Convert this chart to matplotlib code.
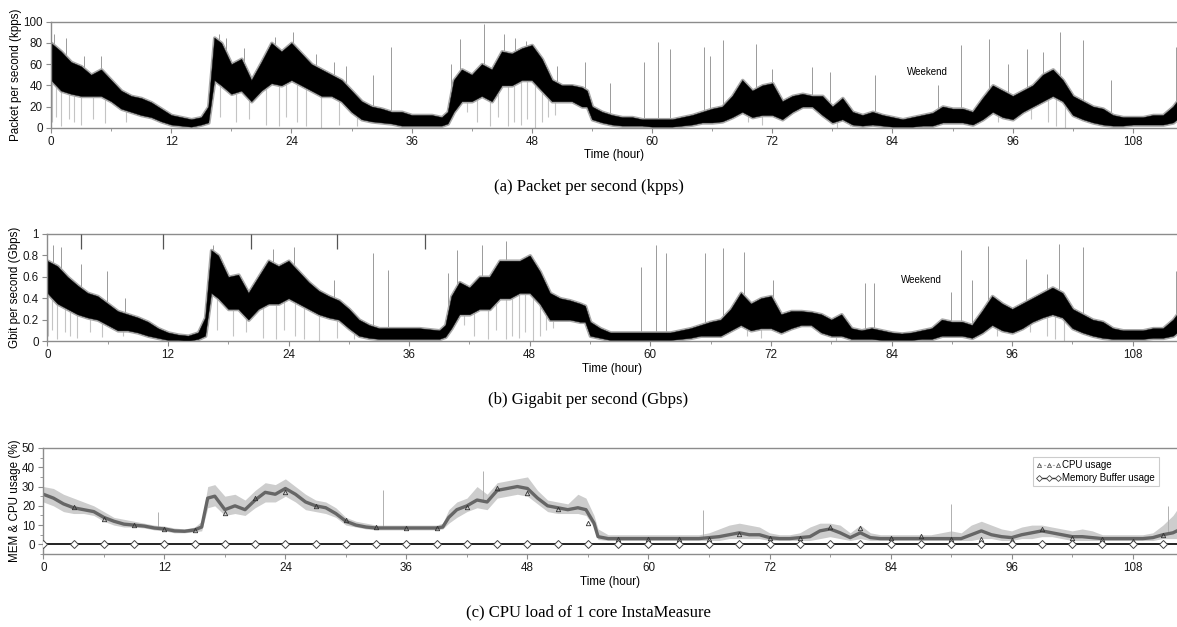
"""Traffic rate and CPU load over 112 hours, three stacked panels."""

import numpy as np
import matplotlib
matplotlib.use("Agg")
import matplotlib.pyplot as plt
from matplotlib.ticker import MultipleLocator
from matplotlib.lines import Line2D

plt.rcParams["font.family"] = ["Liberation Sans", "DejaVu Sans"]

# (a) packets per second (kpps): lower/upper edge of the dense black trace
pps_hours = [0, 1, 2, 3, 4, 5, 6, 7, 8, 9, 10, 11, 12, 13, 14, 15, 15.7, 16.3,
             17, 18, 19, 20, 21, 22, 23, 24, 25, 26, 27, 28, 29, 30, 31, 32, 33,
             34, 35, 36, 37, 38, 39, 39.6, 40.2, 41, 42, 43, 44, 45, 46, 47, 48,
             49, 50, 51, 52, 53, 53.5, 54, 55, 56, 57, 58, 59, 60, 61, 62, 63,
             64, 65, 66, 67, 68, 69, 70, 71, 72, 73, 74, 75, 76, 77, 78, 79, 80,
             81, 82, 83, 84, 85, 86, 87, 88, 89, 90, 91, 92, 93, 94, 95, 96, 97,
             98, 99, 100, 101, 102, 103, 104, 105, 106, 107, 108, 109, 110, 111,
             112, 112.4]
pps_low = [45, 35, 32, 30, 30, 30, 25, 18, 15, 12, 10, 6, 3, 2, 1, 3, 5, 45,
           40, 32, 35, 25, 35, 42, 40, 45, 40, 35, 30, 30, 25, 15, 8, 6, 5,
           4, 2, 2, 2, 2, 2, 4, 15, 25, 25, 30, 25, 40, 40, 45, 45,
           35, 25, 25, 25, 20, 20, 8, 5, 3, 2, 2, 2, 1, 1, 1, 2,
           3, 5, 5, 6, 10, 15, 10, 12, 12, 8, 15, 20, 20, 12, 5, 8, 3,
           2, 3, 2, 1, 1, 1, 2, 2, 5, 5, 5, 3, 8, 15, 10, 8, 15,
           20, 25, 30, 25, 12, 8, 5, 3, 2, 2, 3, 3, 3, 3,
           5, 8]
pps_high = [80, 72, 62, 58, 50, 55, 45, 35, 30, 28, 24, 18, 12, 10, 8, 10, 20, 85,
            80, 60, 65, 45, 62, 80, 72, 80, 70, 60, 55, 50, 45, 35, 25, 20, 18,
            15, 15, 12, 12, 12, 10, 15, 45, 55, 50, 60, 55, 72, 70, 75, 78,
            65, 45, 40, 40, 38, 35, 20, 15, 12, 10, 10, 8, 8, 8, 8, 10,
            12, 15, 18, 20, 30, 45, 35, 40, 42, 25, 30, 32, 30, 30, 20, 28, 15,
            12, 15, 12, 10, 8, 10, 12, 14, 20, 18, 18, 15, 28, 40, 35, 30, 35,
            40, 50, 55, 45, 30, 25, 20, 18, 12, 10, 10, 10, 12, 12,
            20, 25]
pps_up_hours = [0.3, 1.5, 3.3, 5.0, 16.8, 17.5, 19.3, 22.4, 24.2, 26.5, 28.3,
                29.5, 32.1, 33.9, 39.9, 40.8, 43.2, 45.2, 46.3, 47.4, 50.5, 53.3,
                55.8, 59.2, 60.6, 61.8, 65.2, 65.8, 67.1, 70.4, 72.0, 76.0, 77.8,
                82.3, 88.5, 90.8, 93.6, 95.5, 97.4, 99.0, 100.7, 103.0, 105.8,
                112.3]
pps_up_vals = [88, 85, 68, 68, 88, 85, 75, 86, 90, 70, 62,
               58, 50, 76, 60, 84, 98, 88, 85, 82, 58, 62,
               42, 62, 81, 74, 76, 68, 83, 79, 55, 57, 53,
               50, 40, 78, 84, 60, 74, 71, 90, 83, 45,
               76]
pps_dn_hours = [0.1, 0.5, 1.0, 1.8, 2.3, 3.0, 4.2, 5.4, 7.5, 16.9, 18.5, 19.8,
                21.5, 22.8, 23.5, 24.6, 25.5, 27.0, 28.8, 30.5, 41.5, 42.5, 43.8,
                44.6, 45.6, 46.2, 46.9, 47.5, 48.3, 49.0, 49.6, 50.3, 69.6, 71.0,
                78.5, 79.8, 94.5, 97.8, 99.5, 100.3, 101.2]
pps_dn_vals = [5, 10, 2, 8, 5, 3, 8, 4, 5, 10, 5, 8,
               3, 2, 10, 5, 2, 0, 3, 2, 15, 5, 2,
               10, 2, 5, 3, 8, 0, 5, 10, 12, 5, 3,
               0, 2, 5, 8, 5, 2, 0]

# (b) gigabit per second (Gbps)
gbps_hours = pps_hours
gbps_low = [.45, .35, .30, .25, .22, .20, .15, .10, .10, .08, .05, .03, .01, .01, .00, .02, .05, .45,
            .40, .30, .30, .20, .30, .35, .35, .40, .35, .30, .25, .22, .20, .12, .05, .03, .02,
            .02, .02, .02, .02, .02, .02, .04, .12, .25, .25, .30, .30, .40, .40, .45, .45,
            .35, .20, .20, .20, .18, .18, .05, .03, .01, .01, .01, .01, .01, .01, .01, .02,
            .03, .05, .05, .05, .10, .15, .10, .12, .12, .08, .12, .15, .15, .08, .05, .05, .02,
            .02, .02, .01, .01, .01, .01, .02, .02, .05, .05, .05, .03, .08, .15, .10, .08, .12,
            .18, .22, .25, .22, .12, .08, .05, .03, .02, .02, .02, .02, .03, .03,
            .05, .08]
gbps_high = [.75, .70, .60, .52, .45, .42, .35, .28, .25, .22, .18, .12, .08, .06, .05, .08, .22, .85,
             .80, .60, .62, .45, .60, .75, .70, .75, .65, .55, .47, .42, .38, .30, .20, .15, .12,
             .12, .12, .12, .12, .11, .10, .15, .42, .55, .50, .60, .60, .75, .75, .75, .80,
             .65, .45, .40, .38, .35, .33, .18, .12, .08, .08, .08, .08, .08, .08, .08, .10,
             .12, .15, .18, .20, .30, .45, .35, .40, .42, .25, .28, .28, .27, .25, .20, .25, .12,
             .10, .12, .10, .08, .07, .08, .10, .12, .20, .18, .18, .15, .28, .42, .35, .30, .35,
             .40, .45, .50, .45, .30, .25, .20, .18, .12, .10, .10, .10, .12, .12,
             .20, .25]
gbps_up_hours = [0.6, 1.4, 3.4, 5.9, 7.7, 16.5, 22.5, 24.5, 28.5, 32.4, 33.9,
                 39.9, 40.8, 43.2, 45.6, 59.1, 60.6, 61.6, 65.4, 67.2, 69.3,
                 72.2, 81.4, 82.3, 89.9, 90.9, 92.0, 93.6, 97.4, 99.5, 100.7,
                 103.0, 112.3]
gbps_up_vals = [.90, .88, .72, .65, .40, .90, .86, .88, .57, .82, .66,
                .64, .85, .90, .93, .69, .90, .82, .82, .87, .83,
                .57, .54, .54, .46, .85, .57, .89, .77, .63, .91,
                .88, .65]
gbps_dn_hours = pps_dn_hours
gbps_dn_vals = [.05, .10, .02, .08, .05, .03, .08, .04, .05, .10, .05, .08,
                .03, .02, .10, .05, .02, .00, .03, .02, .15, .05, .02,
                .10, .02, .05, .03, .08, .00, .05, .10, .12, .05, .03,
                .00, .02, .05, .08, .05, .02, .00]
gbps_top_marks = [3.4, 11.5, 20.3, 28.8, 37.6]

# (c) CPU usage (%) of one core, and memory buffer usage
cpu_hours = [0, 1, 2, 3, 4, 5, 6, 7, 8, 9, 10, 11, 12, 13, 14, 15, 15.7, 16.3,
             17, 18, 19, 20, 21, 22, 23, 24, 25, 26, 27, 28, 29, 30, 31, 32, 33,
             34, 35, 36, 37, 38, 39, 39.6, 40.2, 41, 42, 43, 44, 45, 46, 47, 48,
             49, 50, 51, 52, 53, 53.8, 54.6, 55, 56, 57, 58, 59, 60, 61, 62, 63,
             64, 65, 66, 67, 68, 69, 70, 71, 72, 73, 74, 75, 76, 77, 78, 79, 80,
             81, 82, 83, 84, 85, 86, 87, 88, 89, 90, 91, 92, 93, 94, 95, 96, 97,
             98, 99, 100, 101, 102, 103, 104, 105, 106, 107, 108, 109, 110, 111,
             112, 112.4]
cpu_mid = [26, 24, 21, 19, 18, 17, 14, 12, 10.5, 10, 9.5, 8.5, 8, 7, 6.8, 7.5, 9, 24,
           25, 18, 20, 18, 23, 27, 26, 29, 26, 22, 20, 19, 16, 12, 10, 9, 8.5,
           8.5, 8.5, 8.5, 8.5, 8.5, 8.5, 9, 14, 18, 20, 23, 22, 28, 29, 30, 29,
           24, 20, 19, 18, 19, 18, 11, 4, 3, 3, 3, 3, 3, 3, 3, 3,
           3, 3, 3.5, 4, 5, 6, 5, 5, 3.5, 3, 3, 3.5, 4, 7, 8, 6, 3.5,
           6, 3.5, 3, 3, 3, 3, 3, 3, 3, 3, 3, 5, 7, 5, 4, 3.5, 5,
           6, 7, 6, 5, 4, 4, 3.5, 3, 3, 3, 3, 3, 3.5, 5,
           6, 7]
cpu_low = [22, 20, 17, 16, 16, 15, 12, 10, 9, 9, 8.5, 7.5, 7, 6, 6, 6.5, 7, 19,
           20, 15, 16, 15, 19, 22, 22, 25, 22, 18, 17, 16, 14, 10, 9, 8, 7.5,
           7.5, 7.5, 7.5, 7.5, 7.5, 7.5, 8, 11, 14, 17, 19, 18, 24, 25, 26, 25,
           21, 17, 16, 16, 16, 15, 9, 2.5, 2, 2, 2, 2, 2, 2, 2, 2,
           2, 2, 2, 2, 3, 3, 3, 3, 2, 2, 2, 2, 2, 3, 4, 3, 2,
           3, 2, 2, 2, 2, 2, 2, 2, 2, 2, 2, 2, 3, 3, 2, 2, 3,
           3, 4, 4, 3, 2, 2, 2, 2, 2, 2, 2, 2, 2, 3,
           3, 3]
cpu_high = [30, 29, 26, 24, 22, 20, 17, 14, 13, 12, 11, 10, 9.5, 8.5, 8, 9, 12, 30,
            31, 25, 26, 23, 28, 32, 31, 34, 30, 26, 23, 22, 19, 14, 12, 11, 10,
            10, 10, 10, 10, 10, 10, 11, 18, 22, 24, 30, 26, 32, 33, 34, 35,
            28, 23, 22, 21, 26, 24, 15, 8, 5, 5, 5, 5, 5, 5, 5, 5,
            5, 5, 6, 8, 10, 11, 10, 9, 6, 5, 5, 6, 9, 11, 11, 10, 6,
            10, 6, 5, 5, 5, 5, 5, 5, 6, 7, 6, 10, 12, 10, 8, 7, 9,
            10, 10, 9, 8, 7, 8, 7, 5, 5, 5, 5, 5, 6, 10,
            15, 18]
cpu_spike_hours = [11.4, 33.7, 43.6, 65.4, 90.0, 111.5]
cpu_spike_vals = [17, 28, 38, 18, 21, 20]
cpu_mark_hours = [3, 6, 9, 12, 15, 18, 21, 24, 27, 30, 33, 36, 39, 42, 45, 48,
                  51, 54, 57, 60, 63, 66, 69, 72, 75, 78, 81, 84, 87, 90, 93,
                  96, 99, 102, 105, 108, 111]
cpu_mark_vals = [19.5, 13, 10.3, 8, 7.7, 16.4, 24, 27, 20, 12.8, 9, 8.3, 8.3,
                 19.3, 29.3, 26.6, 18.6, 10.9, 2.9, 2.6, 2.6, 2.9, 5.5, 3.4,
                 3.1, 9, 8.3, 3.4, 4.3, 2.9, 3, 2.5, 7.8, 3.4, 3, 2, 4.7]
mem_hours = [0, 3, 6, 9, 12, 15, 18, 21, 24, 27, 30, 33, 36, 39, 42, 45, 48,
             51, 54, 57, 60, 63, 66, 69, 72, 75, 78, 81, 84, 87, 90, 93, 96,
             99, 102, 105, 108, 111]
mem_usage = [0] * len(mem_hours)

XMAX = 112.4
SPINE = "#8c8c8c"


def style_axes(ax, ylim, ystep, ylabel):
    ax.set_xlim(0, XMAX)
    ax.set_ylim(*ylim)
    ax.xaxis.set_major_locator(MultipleLocator(12))
    ax.xaxis.set_minor_locator(MultipleLocator(6))
    ax.yaxis.set_major_locator(MultipleLocator(ystep))
    ax.yaxis.set_major_formatter(plt.FuncFormatter(lambda v, p: f"{v:g}"))
    ax.spines["right"].set_visible(False)
    for s in ("left", "top", "bottom"):
        ax.spines[s].set_color(SPINE)
        ax.spines[s].set_linewidth(1.0)
    ax.tick_params(which="both", direction="out", color=SPINE,
                   labelsize=8.4, labelcolor="#1a1a1a", pad=2.5)
    ax.tick_params(which="major", length=3.5)
    ax.tick_params(which="minor", length=2.5)
    ax.set_ylabel(ylabel, fontsize=8.4, labelpad=1)
    ax.set_xlabel("Time (hour)", fontsize=8.4, labelpad=1)


def draw_traffic(ax, hours, low, high, up_h, up_v, dn_h, dn_v):
    up_base = np.interp(up_h, hours, low)
    dn_top = np.interp(dn_h, hours, high)
    ax.vlines(dn_h, dn_v, dn_top, color="#c4c4c4", lw=0.8, zorder=1)
    ax.vlines(up_h, up_base, up_v, color="#9a9a9a", lw=0.7, zorder=1)
    # soft grey fringe round the dense black core
    ax.fill_between(hours, low, high, facecolor="#9a9a9a", edgecolor="#a8a8a8",
                    lw=2.6, zorder=1.5)
    ax.fill_between(hours, low, high, color="black", lw=0.3, zorder=2)


fig = plt.figure(figsize=(11.77, 6.27), dpi=100)
serif = dict(family=["Liberation Serif", "DejaVu Serif"], fontsize=12,
             ha="center", va="center")

ax1 = fig.add_axes([0.0433, 0.7963, 0.9567, 0.1691])
draw_traffic(ax1, pps_hours, pps_low, pps_high, pps_up_hours, pps_up_vals,
             pps_dn_hours, pps_dn_vals)
style_axes(ax1, (0, 100), 20, "Packet per second (kpps)")
ax1.text(87.5, 53, "Weekend", fontsize=7, ha="center", va="center")
fig.text(0.5, 0.702, "(a) Packet per second (kpps)", **serif)

ax2 = fig.add_axes([0.0402, 0.4561, 0.9598, 0.1707])
draw_traffic(ax2, gbps_hours, gbps_low, gbps_high, gbps_up_hours, gbps_up_vals,
             gbps_dn_hours, gbps_dn_vals)
ax2.vlines(gbps_top_marks, 0.86, 1.0, color="#555555", lw=0.9, zorder=3)
style_axes(ax2, (0, 1), 0.2, "Gbit per second (Gbps)")
ax2.text(87.0, 0.57, "Weekend", fontsize=7, ha="center", va="center")
fig.text(0.5, 0.362, "(b) Gigabit per second (Gbps)", **serif)

ax3 = fig.add_axes([0.0368, 0.1164, 0.9632, 0.1691])
ax3.fill_between(cpu_hours, cpu_low, cpu_high, color="#cdcdcd", lw=0, zorder=1)
ax3.vlines(cpu_spike_hours, np.interp(cpu_spike_hours, cpu_hours, cpu_mid),
           cpu_spike_vals, color="#b0b0b0", lw=0.7, zorder=1)
ax3.plot(cpu_hours, cpu_mid, color="#666666", lw=2.4, zorder=2)
ax3.plot(cpu_mark_hours, cpu_mark_vals, ls="none", marker="^", ms=3.2,
         mfc="none", mec="#333333", mew=0.6, zorder=3)
ax3.plot(mem_hours + [XMAX], mem_usage + [0], color="#222222", lw=1.4,
         marker="D", ms=3.6, mfc="white", mec="#444444", mew=0.7,
         markevery=list(range(len(mem_hours))), zorder=4)
style_axes(ax3, (-5, 50), 10, "MEM & CPU usage (%)")
ax3.yaxis.set_minor_locator(MultipleLocator(5))

handles = [Line2D([], [], color="#b5b5b5", ls=(0, (2, 2)), lw=0.8, marker="^",
                  ms=3, mfc="none", mec="#444444", mew=0.5),
           Line2D([], [], color="#333333", lw=1.0, marker="D", ms=3,
                  mfc="white", mec="#444444", mew=0.6)]
leg = ax3.legend(handles, ["CPU usage", "Memory Buffer usage"], loc="upper right",
                 bbox_to_anchor=(0.988, 0.96), fontsize=7, numpoints=3,
                 handlelength=2.6, handletextpad=0.1, borderpad=0.35,
                 labelspacing=0.25, frameon=True, fancybox=False)
leg.get_frame().set_edgecolor("#c0c0c0")
leg.get_frame().set_linewidth(0.8)
fig.text(0.5, 0.024, "(c) CPU load of 1 core InstaMeasure", **serif)

fig.savefig("out.png", dpi=100)
